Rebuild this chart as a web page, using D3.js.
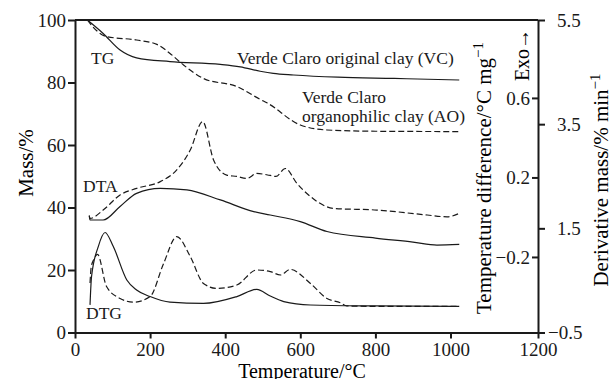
<!DOCTYPE html>
<html>
<head>
<meta charset="utf-8">
<script src="https://cdn.jsdelivr.net/npm/d3@7"></script>
<style>
  body { margin: 0; background: #fff; }
  svg { font-family: "Liberation Serif", "Times New Roman", serif; }
</style>
</head>
<body>
<svg id="chart" width="609" height="379"></svg>
<script>
// temperature (°C), mass (%)
const tgVC = [[33,100],[75,95.7],[120,90.4],[164,87.9],[253,86.7],[387,85.8],[440,85.0],[493,83.6],[528,82.9],[582,82.4],[700,81.7],[850,81.3],[1020,80.8]];
const tgAO = [[33,100],[40,98.9],[84,94.7],[164,93.6],[218,92.2],[253,89.3],[289,85.6],[342,81.3],[431,78.7],[493,74.6],[511,73.5],[600,66.4],[671,64.8],[800,64.4],[1020,64.3]];
// temperature (°C), temperature difference (°C/mg)
const dtaVC = [[38,0.008],[40,-0.014],[75,-0.014],[120,0.054],[164,0.120],[227,0.145],[298,0.137],[387,0.087],[476,0.028],[520,0.011],[600,-0.022],[671,-0.072],[800,-0.105],[900,-0.125],[964,-0.140],[1020,-0.137]];
const dtaAO = [[38,0.008],[40,-0.006],[75,0.036],[120,0.112],[164,0.145],[227,0.179],[271,0.238],[307,0.338],[340,0.481],[369,0.288],[404,0.212],[431,0.205],[458,0.195],[484,0.220],[520,0.210],[535,0.205],[560,0.245],[591,0.170],[627,0.104],[689,0.044],[804,0.036],[938,0.011],[991,0.002],[1020,0.019]];
// temperature (°C), derivative mass (%/min)
const dtgVC = [[40,0.03],[44,0.57],[62,1.15],[80,1.42],[102,1.15],[138,0.508],[164,0.316],[200,0.19],[253,0.082],[342,0.058],[431,0.19],[484,0.328],[520,0.2],[556,0.094],[627,0.028],[800,0.01],[1020,0.0]];
const dtgAO = [[40,0.45],[43,0.75],[50,0.9],[60,1.0],[84,0.382],[120,0.154],[156,0.082],[200,0.19],[236,0.826],[271,1.342],[307,0.958],[342,0.442],[378,0.346],[431,0.412],[484,0.7],[520,0.67],[547,0.604],[573,0.712],[627,0.442],[671,0.154],[707,0.07],[724,0.01],[850,0.0],[1020,0.0]];

const xTicks = [0, 200, 400, 600, 800, 1000, 1200];
const massTicks = [0, 20, 40, 60, 80, 100];
const dtaTicks = [-0.2, 0.2, 0.6];
const dtgTicks = [-0.5, 1.5, 3.5, 5.5];

const svg = d3.select("#chart");
const plotLeft = 75, plotRight = 538, plotTop = 20, plotBottom = 332.5;

// the printed temperature axis is stretched between 1000 and 1200
const x = d3.scaleLinear().domain([0, 1000, 1200]).range([plotLeft, 450.5, plotRight]);
const yMass = d3.scaleLinear().domain([0, 100]).range([plotBottom, plotTop]);
const yDta = d3.scaleLinear().domain([-0.58, 0.992]).range([plotBottom, plotTop]);
const yDtg = d3.scaleLinear().domain([-0.5, 5.5]).range([plotBottom, plotTop]);

const ink = "#1a1a1a";

// curves
function drawLine(data, yScale, dashed) {
    const line = d3.line()
        .x(d => x(d[0]))
        .y(d => yScale(d[1]))
        .curve(d3.curveMonotoneX);
    svg.append("path")
        .datum(data)
        .attr("d", line)
        .attr("fill", "none")
        .attr("stroke", ink)
        .attr("stroke-width", 1.2)
        .attr("stroke-dasharray", dashed ? "6,3" : null);
}
drawLine(tgVC, yMass, false);
drawLine(tgAO, yMass, true);
drawLine(dtaVC, yDta, false);
drawLine(dtaAO, yDta, true);
drawLine(dtgVC, yDtg, false);
drawLine(dtgAO, yDtg, true);

// axes
function styleAxis(g) {
    g.selectAll("path, line").attr("stroke", ink).attr("stroke-width", 2);
    g.selectAll("text").attr("fill", ink).style("font-size", "19px")
        .style("font-family", "'Liberation Serif', 'Times New Roman', serif");
}

svg.append("g")
    .attr("transform", `translate(0,${plotBottom})`)
    .call(d3.axisBottom(x).tickValues(xTicks).tickFormat(d3.format("d")).tickSize(6).tickSizeOuter(0).tickPadding(4))
    .call(styleAxis);

svg.append("g")
    .attr("transform", `translate(${plotLeft},0)`)
    .call(d3.axisLeft(yMass).tickValues(massTicks).tickSize(7).tickSizeOuter(0).tickPadding(2))
    .call(styleAxis);

svg.append("g")
    .attr("transform", `translate(${plotRight},0)`)
    .call(d3.axisLeft(yDta).tickValues(dtaTicks).tickFormat(d3.format(".1f")).tickSize(6).tickSizeOuter(0).tickPadding(2))
    .call(styleAxis)
    .call(g => g.select(".domain").remove());

const dtgAxis = svg.append("g")
    .attr("transform", `translate(${plotRight},0)`)
    .call(d3.axisRight(yDtg).tickValues(dtgTicks).tickFormat(d3.format(".1f")).tickSize(7).tickSizeOuter(0).tickPadding(12))
    .call(styleAxis);
dtgAxis.selectAll("text").filter(d => d < 0).attr("x", 10);

// top frame
svg.append("line")
    .attr("x1", plotLeft).attr("x2", plotRight)
    .attr("y1", plotTop).attr("y2", plotTop)
    .attr("stroke", ink).attr("stroke-width", 2);

// axis titles
svg.append("text")
    .attr("x", 302).attr("y", 378)
    .attr("text-anchor", "middle")
    .style("font-size", "20px")
    .text("Temperature/°C");

svg.append("text")
    .attr("transform", "translate(33,163) rotate(-90)")
    .attr("text-anchor", "middle")
    .style("font-size", "21px")
    .text("Mass/%");

const dtaTitle = svg.append("text")
    .attr("transform", "translate(491,178) rotate(-90)")
    .attr("text-anchor", "middle")
    .style("font-size", "21px");
dtaTitle.append("tspan").text("Temperature difference/°C mg");
dtaTitle.append("tspan").attr("dy", -8).style("font-size", "15px").text("−1");

svg.append("text")
    .attr("transform", "translate(529,55) rotate(-90)")
    .attr("text-anchor", "middle")
    .style("font-size", "20px")
    .text("Exo→");

const dtgTitle = svg.append("text")
    .attr("transform", "translate(608,180) rotate(-90)")
    .attr("text-anchor", "middle")
    .style("font-size", "21px");
dtgTitle.append("tspan").text("Derivative mass/% min");
dtgTitle.append("tspan").attr("dy", -8).style("font-size", "15px").text("−1");

// curve labels
const labels = [
    { text: "TG", x: 91, y: 63.5 },
    { text: "DTA", x: 83, y: 192 },
    { text: "DTG", x: 86, y: 319 },
    { text: "Verde Claro original clay (VC)", x: 237, y: 64 },
    { text: "Verde Claro", x: 302, y: 103 },
    { text: "organophilic clay (AO)", x: 302, y: 122 }
];
svg.append("g")
    .selectAll("text")
    .data(labels)
    .join("text")
    .attr("x", d => d.x)
    .attr("y", d => d.y)
    .attr("fill", ink)
    .style("font-size", "17.5px")
    .text(d => d.text);
</script>
</body>
</html>
